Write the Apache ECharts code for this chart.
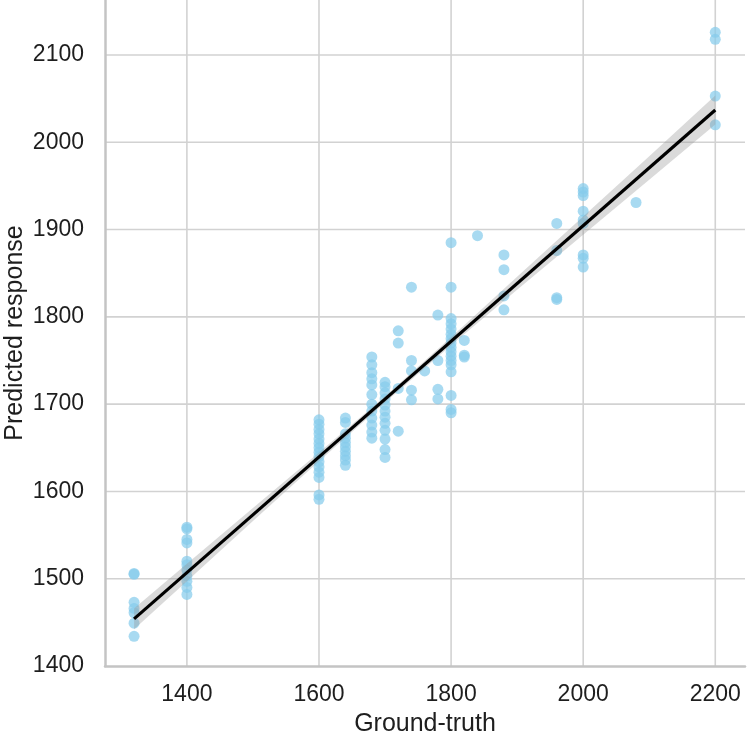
<!DOCTYPE html>
<html>
<head>
<meta charset="utf-8">
<script src="https://cdn.jsdelivr.net/npm/echarts@6/dist/echarts.min.js"></script>
<style>
  html, body { margin: 0; padding: 0; background: #fff; }
  #chart { width: 747px; height: 735px; }
</style>
</head>
<body>
<div id="chart"></div>
<script>
// ground-truth levels and the predicted responses at each level
var truthLevels = [1320, 1400, 1600, 1640, 1680, 1700, 1720, 1740, 1760, 1780, 1800, 1820, 1840, 1880, 1960, 2000, 2080, 2200];
var predictedAt = [
  [1506, 1505, 1473, 1466, 1461, 1449, 1434],
  [1559, 1557, 1545, 1541, 1520, 1516, 1510, 1503, 1497, 1490, 1482],
  [1682, 1677, 1671, 1666, 1660, 1655, 1650, 1645, 1640, 1634, 1628, 1622, 1616, 1596, 1591],
  [1684, 1679, 1666, 1661, 1656, 1651, 1646, 1641, 1636, 1630],
  [1754, 1745, 1736, 1729, 1722, 1711, 1700, 1692, 1684, 1676, 1668, 1661],
  [1725, 1720, 1713, 1706, 1699, 1692, 1685, 1678, 1670, 1660, 1648, 1639],
  [1784, 1770, 1718, 1669],
  [1834, 1750, 1738, 1716, 1705],
  [1738],
  [1802, 1750, 1717, 1706],
  [1885, 1834, 1798, 1792, 1786, 1780, 1775, 1770, 1765, 1760, 1755, 1750, 1745, 1737, 1710, 1694, 1690],
  [1773, 1756, 1754],
  [1893],
  [1871, 1854, 1824, 1808],
  [1907, 1876, 1822, 1820],
  [1947, 1943, 1939, 1921, 1911, 1907, 1871, 1867, 1857],
  [1931],
  [2126, 2118, 2053, 2020]
];

// regression line ends and its confidence band
var fitX = [1320, 2200];
var fitY = [1454, 2037];
var bandX = [1320, 1400, 1500, 1600, 1700, 1800, 1900, 2000, 2100, 2200];
var bandLow = [1442, 1497, 1566, 1634.5, 1702, 1767.5, 1831, 1894, 1957, 2020.5];
var bandHigh = [1466, 1517, 1581, 1644.5, 1709, 1776.5, 1846, 1915, 1984, 2053.5];

var xTicks = [1400, 1600, 1800, 2000, 2200];
var yTicks = [1400, 1500, 1600, 1700, 1800, 1900, 2000, 2100];

var points = [];
truthLevels.forEach(function (t, i) {
  predictedAt[i].forEach(function (p) { points.push([t, p]); });
});

var bandPoly = [];
bandX.forEach(function (x, i) { bandPoly.push([x, bandHigh[i]]); });
for (var i = bandX.length - 1; i >= 0; i--) bandPoly.push([bandX[i], bandLow[i]]);

var FONT = "Liberation Sans";
var plain = function (v) { return String(v); };
var chart = echarts.init(document.getElementById("chart"));
chart.setOption({
  animation: false,
  grid: { left: 105, right: 2, top: 0, bottom: 69, containLabel: false, outerBoundsMode: "none" },
  xAxis: {
    type: "value",
    min: 1276,
    max: 2245,
    name: "Ground-truth",
    nameLocation: "middle",
    nameGap: 46,
    nameMoveOverlap: false,
    nameTextStyle: { fontFamily: FONT, fontSize: 25, color: "#1e1e1e" },
    axisLine: { show: true, lineStyle: { color: "#c4c4c4", width: 2.5 } },
    axisTick: { show: false },
    axisLabel: {
      fontFamily: FONT, fontSize: 23, color: "#1e1e1e", margin: 17,
      customValues: xTicks, formatter: plain
    },
    splitLine: { show: false }
  },
  yAxis: {
    type: "value",
    min: 1400,
    max: 2163,
    name: "Predicted response",
    nameLocation: "middle",
    nameGap: 77,
    nameMoveOverlap: false,
    nameTextStyle: { fontFamily: FONT, fontSize: 25, color: "#1e1e1e" },
    axisLine: { show: true, lineStyle: { color: "#c4c4c4", width: 2.5 } },
    axisTick: { show: false },
    axisLabel: {
      fontFamily: FONT, fontSize: 23, color: "#1e1e1e", margin: 21,
      customValues: yTicks, formatter: plain
    },
    splitLine: { show: false }
  },
  series: [
    {
      // grid lines drawn through the axes' own coordinates
      type: "custom",
      silent: true,
      z: 0,
      data: [0],
      renderItem: function (params, api) {
        var kids = [];
        var y0 = api.coord([1276, 1400])[1], y1 = api.coord([1276, 2163])[1];
        var x0 = api.coord([1276, 1400])[0], x1 = api.coord([2245, 1400])[0];
        xTicks.forEach(function (t) {
          var x = api.coord([t, 1400])[0];
          kids.push({ type: "line", shape: { x1: x, y1: y0, x2: x, y2: y1 }, style: { stroke: "#d2d2d2", lineWidth: 1.6 } });
        });
        yTicks.forEach(function (t) {
          if (t === 1400) return;
          var y = api.coord([1276, t])[1];
          kids.push({ type: "line", shape: { x1: x0, y1: y, x2: x1, y2: y }, style: { stroke: "#d2d2d2", lineWidth: 1.6 } });
        });
        return { type: "group", children: kids };
      }
    },
    {
      type: "scatter",
      data: points,
      symbolSize: 11,
      z: 2,
      itemStyle: { color: "rgba(135,204,235,0.9)" }
    },
    {
      type: "custom",
      silent: true,
      z: 3,
      data: [0],
      renderItem: function (params, api) {
        var pts = bandPoly.map(function (p) { return api.coord(p); });
        return { type: "polygon", shape: { points: pts }, style: { fill: "rgba(150,150,150,0.35)" } };
      }
    },
    {
      type: "line",
      data: [[fitX[0], fitY[0]], [fitX[1], fitY[1]]],
      showSymbol: false,
      z: 4,
      lineStyle: { color: "#000", width: 3.2 }
    }
  ]
});
</script>
</body>
</html>
